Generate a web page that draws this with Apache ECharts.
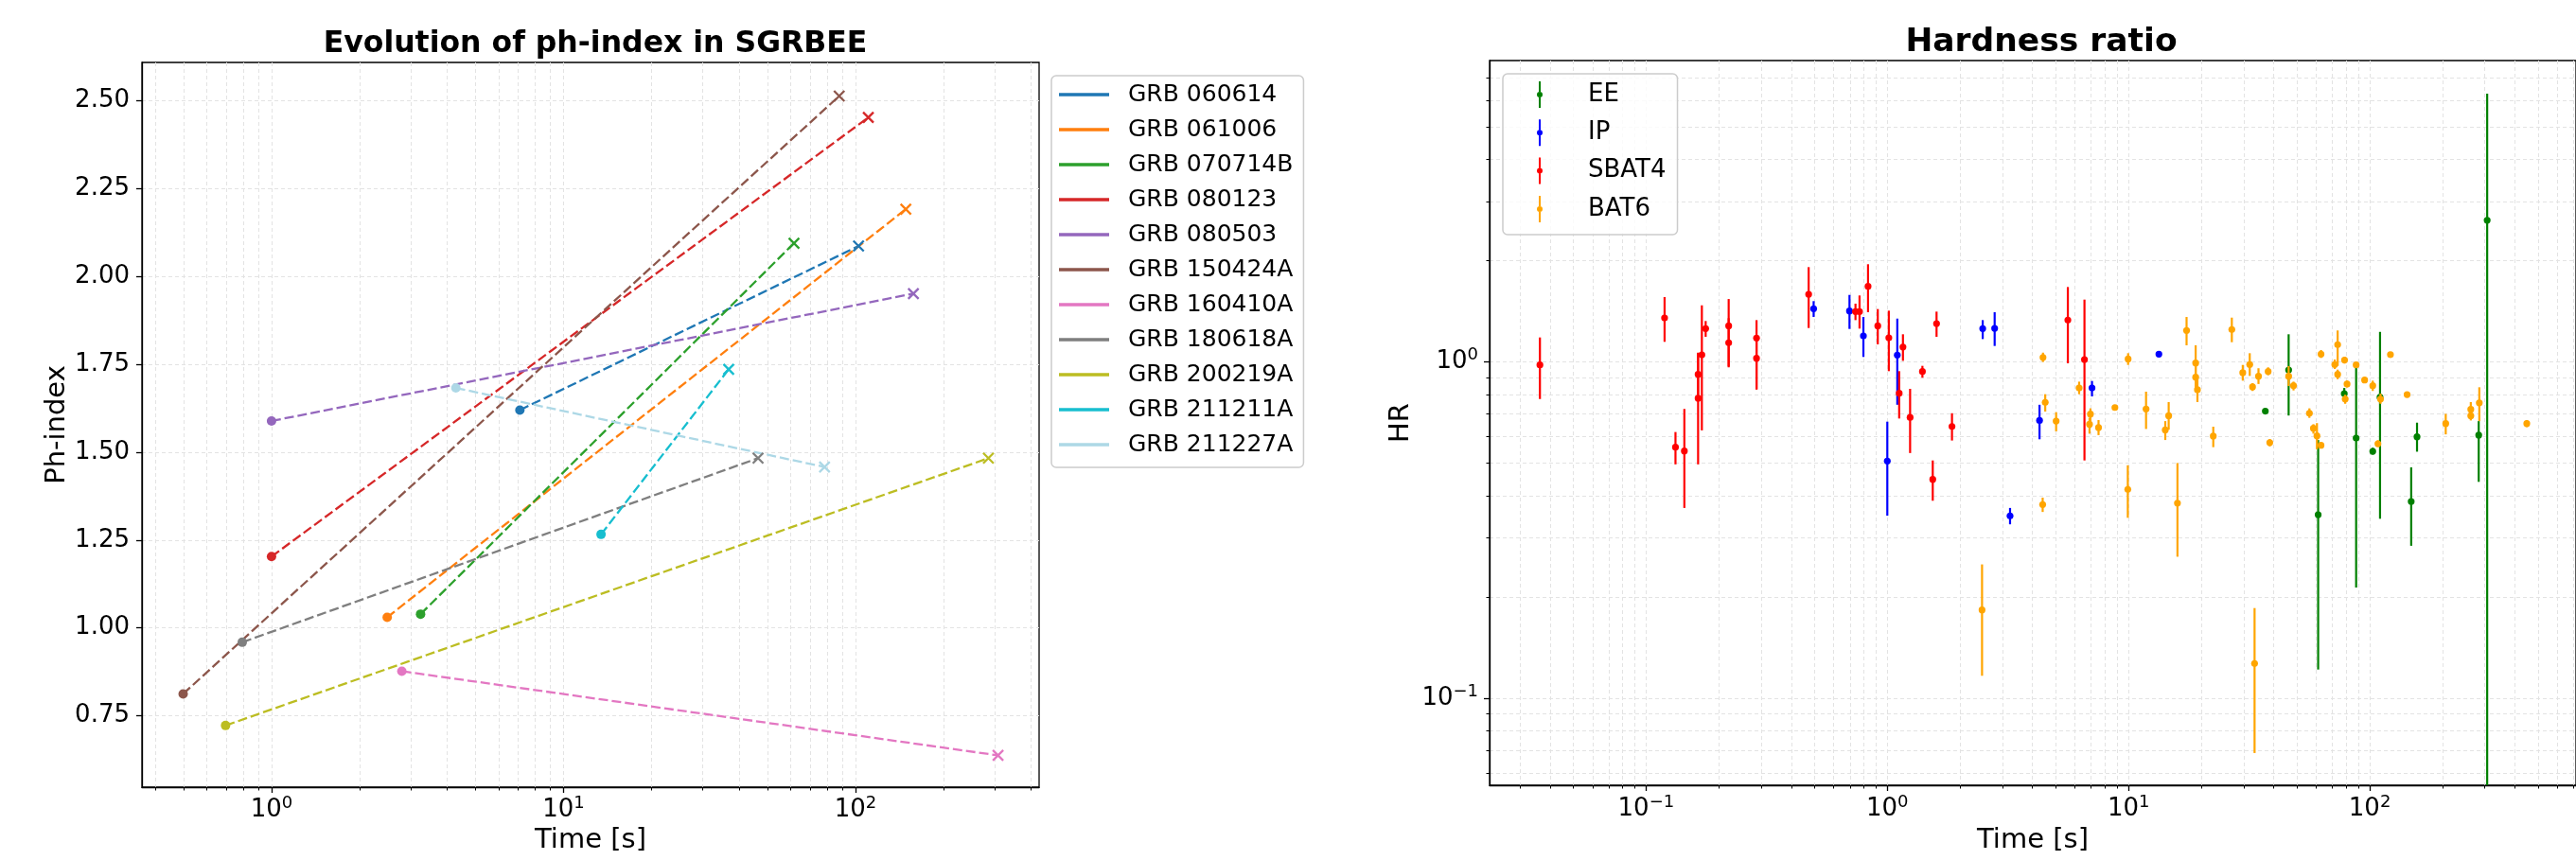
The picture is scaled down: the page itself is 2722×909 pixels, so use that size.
<!DOCTYPE html>
<html>
<head>
<meta charset="utf-8">
<script src="https://cdn.jsdelivr.net/npm/echarts@6/dist/echarts.min.js"></script>
<style>
html,body{margin:0;padding:0;background:#fff;}
#chart{width:2722px;height:909px;}
</style>
</head>
<body>
<div id="chart"></div>
<script>
// ---------- Left panel: photon index evolution ----------
const grbNames = ['GRB 060614','GRB 061006','GRB 070714B','GRB 080123','GRB 080503','GRB 150424A','GRB 160410A','GRB 180618A','GRB 200219A','GRB 211211A','GRB 211227A'];
const grbColors = ['#1f77b4','#ff7f0e','#2ca02c','#d62728','#9467bd','#8c564b','#e377c2','#7f7f7f','#bcbd22','#17becf','#add8e6'];
const tStart  = [7.09, 2.49, 3.24, 1.0, 1.0, 0.498, 2.795, 0.794, 0.696, 13.45, 4.28];
const phStart = [1.620, 1.030, 1.039, 1.203, 1.589, 0.812, 0.8765, 0.959, 0.722, 1.266, 1.683];
const tEnd    = [102.5, 148.8, 61.6, 110.7, 158, 88, 308, 46.4, 285.4, 36.8, 78.4];
const phEnd   = [2.087, 2.192, 2.095, 2.453, 1.9515, 2.514, 0.637, 1.483, 1.483, 1.736, 1.458];
const phTicks = [0.75, 1.00, 1.25, 1.50, 1.75, 2.00, 2.25, 2.50];
const leftXMajor = [1, 10, 100];
const leftXMinor = [0.4,0.5,0.6,0.7,0.8,0.9,2,3,4,5,6,7,8,9,20,30,40,50,60,70,80,90,200,300,400];

// ---------- Right panel: hardness ratio [time, HR, low, high] ----------
const eeTime = [36.9, 46.1, 61.1, 78.4, 87.8, 102.9, 110.3, 157, 148.5, 282.9, 306.7];
const eeHR   = [0.714, 0.947, 0.3513, 0.805, 0.594, 0.5425, 0.785, 0.599, 0.3848, 0.606, 2.64];
const eeLow  = [0.705, 0.693, 0.1217, 0.776, 0.2134, 0.53, 0.3418, 0.541, 0.284, 0.44, 0.02];
const eeHigh = [0.723, 1.209, 0.586, 0.837, 0.974, 0.556, 1.229, 0.66, 0.486, 0.667, 6.28];

const ipTime = [0.495, 0.697, 0.796, 1.0, 1.1, 2.486, 2.786, 3.227, 4.276, 7.056, 13.36];
const ipHR   = [1.44, 1.418, 1.196, 0.5075, 1.048, 1.257, 1.259, 0.3484, 0.670, 0.837, 1.055];
const ipLow  = [1.361, 1.254, 1.035, 0.349, 0.746, 1.17, 1.116, 0.329, 0.589, 0.79, 1.04];
const ipHigh = [1.517, 1.583, 1.361, 0.6645, 1.346, 1.332, 1.406, 0.368, 0.746, 0.878, 1.07];

const sbTime = [0.0363, 0.1193, 0.1324, 0.1441, 0.1643, 0.1643, 0.1703, 0.1766, 0.220, 0.220, 0.287, 0.287, 0.472, 0.738, 0.767, 0.832, 0.913, 1.0145, 1.161, 1.12, 1.243, 1.398, 1.6, 1.543, 1.854, 5.603, 6.566];
const sbHR   = [0.980, 1.352, 0.558, 0.5435, 0.780, 0.919, 1.05, 1.257, 1.281, 1.141, 1.178, 1.026, 1.590, 1.412, 1.412, 1.678, 1.281, 1.180, 1.108, 0.807, 0.684, 0.937, 1.301, 0.4475, 0.643, 1.332, 1.017];
const sbLow  = [0.776, 1.148, 0.496, 0.368, 0.496, 0.785, 0.626, 1.188, 0.964, 0.97, 0.828, 0.83, 1.262, 1.332, 1.257, 1.406, 1.128, 0.939, 1.008, 0.679, 0.536, 0.898, 1.188, 0.3866, 0.584, 0.991, 0.5095];
const sbHigh = [1.183, 1.56, 0.619, 0.725, 1.066, 1.062, 1.474, 1.324, 1.539, 1.35, 1.332, 1.20, 1.915, 1.491, 1.577, 1.953, 1.437, 1.421, 1.209, 0.939, 0.832, 0.974, 1.412, 0.5095, 0.704, 1.671, 1.533];

const b6Time = [2.47, 4.42, 4.515, 4.406, 5.01, 6.24, 6.95, 6.89, 7.51, 8.78, 9.96, 9.93, 11.82, 14.2, 14.67, 15.95, 17.4, 18.98, 18.98, 19.3, 22.45, 26.8, 29.75, 31.8, 32.66, 34.57, 37.9, 38.5, 33.3, 46.1, 48.3, 56.2, 58.4, 60.4, 62.8, 62.8, 71.6, 73.6, 73.6, 78.6, 80.5, 79.1, 87.8, 95.2, 102.9, 108.1, 110.8, 121.8, 142.8, 206.5, 262.3, 262.3, 284.5, 447.6];
const b6HR   = [0.183, 1.032, 0.758, 0.3767, 0.667, 0.837, 0.70, 0.653, 0.638, 0.732, 1.021, 0.418, 0.725, 0.628, 0.692, 0.3805, 1.241, 0.993, 0.901, 0.827, 0.602, 1.249, 0.929, 0.983, 0.843, 0.907, 0.937, 0.576, 0.1268, 0.907, 0.85, 0.704, 0.635, 0.603, 1.055, 0.565, 0.983, 1.126, 0.919, 1.013, 0.86, 0.776, 0.98, 0.884, 0.85, 0.571, 0.776, 1.052, 0.8, 0.656, 0.723, 0.692, 0.756, 0.656];
const b6Low  = [0.1166, 1.0, 0.712, 0.358, 0.622, 0.802, 0.653, 0.612, 0.606, 0.72, 0.98, 0.344, 0.632, 0.586, 0.629, 0.2635, 1.121, 0.905, 0.827, 0.76, 0.558, 1.145, 0.88, 0.909, 0.82, 0.86, 0.913, 0.561, 0.0687, 0.848, 0.823, 0.682, 0.612, 0.55, 1.028, 0.555, 0.953, 0.974, 0.889, 0.99, 0.84, 0.751, 0.97, 0.865, 0.82, 0.56, 0.751, 1.045, 0.79, 0.609, 0.689, 0.67, 0.667, 0.64];
const b6High = [0.25, 1.066, 0.802, 0.395, 0.709, 0.874, 0.728, 0.682, 0.672, 0.745, 1.062, 0.493, 0.816, 0.667, 0.76, 0.5005, 1.361, 1.121, 0.991, 0.905, 0.642, 1.355, 0.98, 1.062, 0.865, 0.958, 0.964, 0.59, 0.1854, 0.972, 0.874, 0.728, 0.653, 0.658, 1.085, 0.575, 1.017, 1.241, 0.949, 1.035, 0.88, 0.799, 0.99, 0.9, 0.88, 0.585, 0.805, 1.06, 0.81, 0.701, 0.76, 0.712, 0.841, 0.672];

const hrGroups = ['EE', 'IP', 'SBAT4', 'BAT6'];
const hrColors = ['#008000', '#0000ff', '#ff0000', '#ffa500'];
const rightXMajor = [0.1, 1, 10, 100];
const rightXMinor = [0.03,0.04,0.05,0.06,0.07,0.08,0.09,0.2,0.3,0.4,0.5,0.6,0.7,0.8,0.9,2,3,4,5,6,7,8,9,20,30,40,50,60,70,80,90,200,300,400,500,600,700];
const rightYMajor = [0.1, 1];
const rightYMinor = [0.06,0.07,0.08,0.09,0.2,0.3,0.4,0.5,0.6,0.7,0.8,0.9,2,3,4,5,6,7];

// ---------- helpers ----------
const FONT = 'DejaVu Sans';
function zip4(a, b, c, d) { return a.map((v, i) => [v, b[i], c[i], d[i]]); }
const hrData = [zip4(eeTime, eeHR, eeLow, eeHigh), zip4(ipTime, ipHR, ipLow, ipHigh), zip4(sbTime, sbHR, sbLow, sbHigh), zip4(b6Time, b6HR, b6Low, b6High)];

function powLabel(v) {
  const e = Math.round(Math.log10(v));
  return '{b|10}{s|' + (e < 0 ? '\u2212' + (-e) : String(e)) + '}';
}
const powRich = {
  b: { fontSize: 26, fontFamily: FONT, color: '#000', lineHeight: 32 },
  s: { fontSize: 18, fontFamily: FONT, color: '#000', lineHeight: 21, verticalAlign: 'top' }
};
const gridLine = { show: true, lineStyle: { color: '#e3e3e3', width: 1, type: [4, 3] } };
const majorTick = { show: true, inside: false, length: 6, lineStyle: { color: '#000', width: 1.3 } };
const minorTick = { show: true, inside: false, length: 3.5, lineStyle: { color: '#000', width: 1 } };
const axisLine = { show: true, onZero: false, lineStyle: { color: '#000', width: 1.3 } };

const LX = [0.3599, 425.8], LY = [0.5465, 2.6097];
const RX = [0.02245, 716], RY = [0.05509, 7.88];

const xMark = 'path://M0,0L10,10M10,0L0,10';
const errIcon = 'path://M2.5,0L4.5,0L4.5,11L2.5,11ZM2.5,17L4.5,17L4.5,28L2.5,28ZM6.5,14A3,3 0 1 1 0.5,14A3,3 0 1 1 6.5,14Z';

const series = [];
grbNames.forEach((name, i) => {
  const c = grbColors[i];
  series.push({
    name: name, type: 'line', xAxisIndex: 0, yAxisIndex: 0,
    data: [
      { value: [tStart[i], phStart[i]], symbol: 'circle', symbolSize: 10 },
      { value: [tEnd[i], phEnd[i]], symbol: xMark, symbolSize: 11, itemStyle: { color: c, borderColor: c, borderWidth: 2.3 } }
    ],
    color: c,
    itemStyle: { color: c, borderWidth: 0 },
    lineStyle: { color: c, width: 2.3, type: [10, 4] },
    emphasis: { disabled: true }, silent: true, z: 3
  });
});

function errRender(params, api) {
  const color = api.visual('color');
  const x = api.value(0);
  const c = api.coord([x, api.value(1)]);
  const lo = api.coord([x, api.value(2)]);
  const hi = api.coord([x, api.value(3)]);
  const cs = params.coordSys;
  const cl = y => Math.max(cs.y, Math.min(cs.y + cs.height, y));
  return {
    type: 'group',
    children: [
      { type: 'line', shape: { x1: c[0], y1: cl(lo[1]), x2: c[0], y2: cl(hi[1]) }, style: { stroke: color, lineWidth: 2.2 } },
      { type: 'circle', shape: { cx: c[0], cy: c[1], r: 3.6 }, style: { fill: color } }
    ]
  };
}
hrGroups.forEach((name, i) => {
  series.push({
    name: name, type: 'custom', xAxisIndex: 2, yAxisIndex: 1,
    renderItem: errRender,
    encode: { x: 0, y: 1 },
    data: hrData[i],
    itemStyle: { color: hrColors[i] },
    silent: true, z: 3 + i
  });
});

const chart = echarts.init(document.getElementById('chart'), null, { renderer: 'canvas', width: 2722, height: 909 });
chart.setOption({
  animation: false,
  backgroundColor: '#fff',
  textStyle: { fontFamily: FONT, color: '#000' },
  title: [
    { text: 'Evolution of ph-index in SGRBEE', left: 624, top: 26, textAlign: 'center',
      textStyle: { fontSize: 31.5, fontWeight: 'bold', fontFamily: FONT, color: '#000' } },
    { text: 'Hardness ratio', left: 2152, top: 23, textAlign: 'center',
      textStyle: { fontSize: 34.5, fontWeight: 'bold', fontFamily: FONT, color: '#000' } }
  ],
  grid: [
    { left: 150, top: 66, width: 948, height: 766, show: true, borderColor: '#000', borderWidth: 1.3, backgroundColor: 'transparent', containLabel: false },
    { left: 1574, top: 64, width: 1153, height: 766, show: true, borderColor: '#000', borderWidth: 1.3, backgroundColor: 'transparent', containLabel: false }
  ],
  xAxis: [
    { type: 'log', gridIndex: 0, position: 'bottom', min: LX[0], max: LX[1], logBase: 10,
      name: 'Time [s]', nameLocation: 'middle', nameGap: 40,
      nameTextStyle: { fontSize: 29, fontFamily: FONT, color: '#000' },
      axisLine: axisLine, axisTick: Object.assign({ customValues: leftXMajor }, majorTick),
      axisLabel: { customValues: leftXMajor, margin: 8, formatter: powLabel, rich: powRich },
      splitLine: gridLine, minorTick: { show: false }, minorSplitLine: { show: false } },
    { type: 'log', gridIndex: 0, position: 'bottom', min: LX[0], max: LX[1], logBase: 10,
      axisLine: { show: false }, axisTick: Object.assign({ customValues: leftXMinor }, minorTick),
      axisLabel: { show: false }, splitLine: gridLine },
    { type: 'log', gridIndex: 1, position: 'bottom', min: RX[0], max: RX[1], logBase: 10,
      name: 'Time [s]', nameLocation: 'middle', nameGap: 44,
      nameTextStyle: { fontSize: 29, fontFamily: FONT, color: '#000' },
      axisLine: axisLine, axisTick: Object.assign({ customValues: rightXMajor }, majorTick),
      axisLabel: { customValues: rightXMajor, margin: 9, formatter: powLabel, rich: powRich },
      splitLine: gridLine },
    { type: 'log', gridIndex: 1, position: 'bottom', min: RX[0], max: RX[1], logBase: 10,
      axisLine: { show: false }, axisTick: Object.assign({ customValues: rightXMinor }, minorTick),
      axisLabel: { show: false }, splitLine: gridLine }
  ],
  yAxis: [
    { type: 'value', gridIndex: 0, position: 'left', min: LY[0], max: LY[1],
      name: 'Ph-index', nameLocation: 'middle', nameGap: 72, nameRotate: 90,
      nameTextStyle: { fontSize: 29, fontFamily: FONT, color: '#000' },
      axisLine: axisLine, axisTick: Object.assign({ customValues: phTicks }, majorTick),
      axisLabel: { customValues: phTicks, margin: 13, fontSize: 26, fontFamily: FONT, color: '#000', formatter: v => v.toFixed(2) },
      splitLine: gridLine },
    { type: 'log', gridIndex: 1, position: 'left', min: RY[0], max: RY[1], logBase: 10,
      name: 'HR', nameLocation: 'middle', nameGap: 79, nameRotate: 90,
      nameTextStyle: { fontSize: 29, fontFamily: FONT, color: '#000' },
      axisLine: axisLine, axisTick: Object.assign({ customValues: rightYMajor }, majorTick),
      axisLabel: { customValues: rightYMajor, margin: 12, formatter: powLabel, rich: powRich },
      splitLine: gridLine },
    { type: 'log', gridIndex: 1, position: 'left', min: RY[0], max: RY[1], logBase: 10,
      axisLine: { show: false }, axisTick: Object.assign({ customValues: rightYMinor }, minorTick),
      axisLabel: { show: false }, splitLine: gridLine }
  ],
  legend: [
    { orient: 'vertical', left: 1111, top: 80, padding: [6, 11, 10, 8],
      data: grbNames.map(n => ({ name: n, icon: 'rect' })),
      itemWidth: 53, itemHeight: 3.5, itemGap: 9,
      backgroundColor: 'rgba(255,255,255,0.8)', borderColor: '#cccccc', borderWidth: 1.5, borderRadius: 5,
      textStyle: { fontSize: 25, fontFamily: FONT, color: '#000', lineHeight: 28, padding: [0, 0, 0, 15] },
      selectedMode: false },
    { orient: 'vertical', left: 1588, top: 78, padding: [7, 12, 12, 36],
      data: hrGroups.map(n => ({ name: n, icon: errIcon })),
      itemWidth: 6, itemHeight: 28, itemGap: 10.3,
      backgroundColor: 'rgba(255,255,255,0.8)', borderColor: '#cccccc', borderWidth: 1.5, borderRadius: 5,
      textStyle: { fontSize: 26, fontFamily: FONT, color: '#000', lineHeight: 30, padding: [0, 0, 0, 43] },
      selectedMode: false }
  ],
  series: series
});
</script>
</body>
</html>
